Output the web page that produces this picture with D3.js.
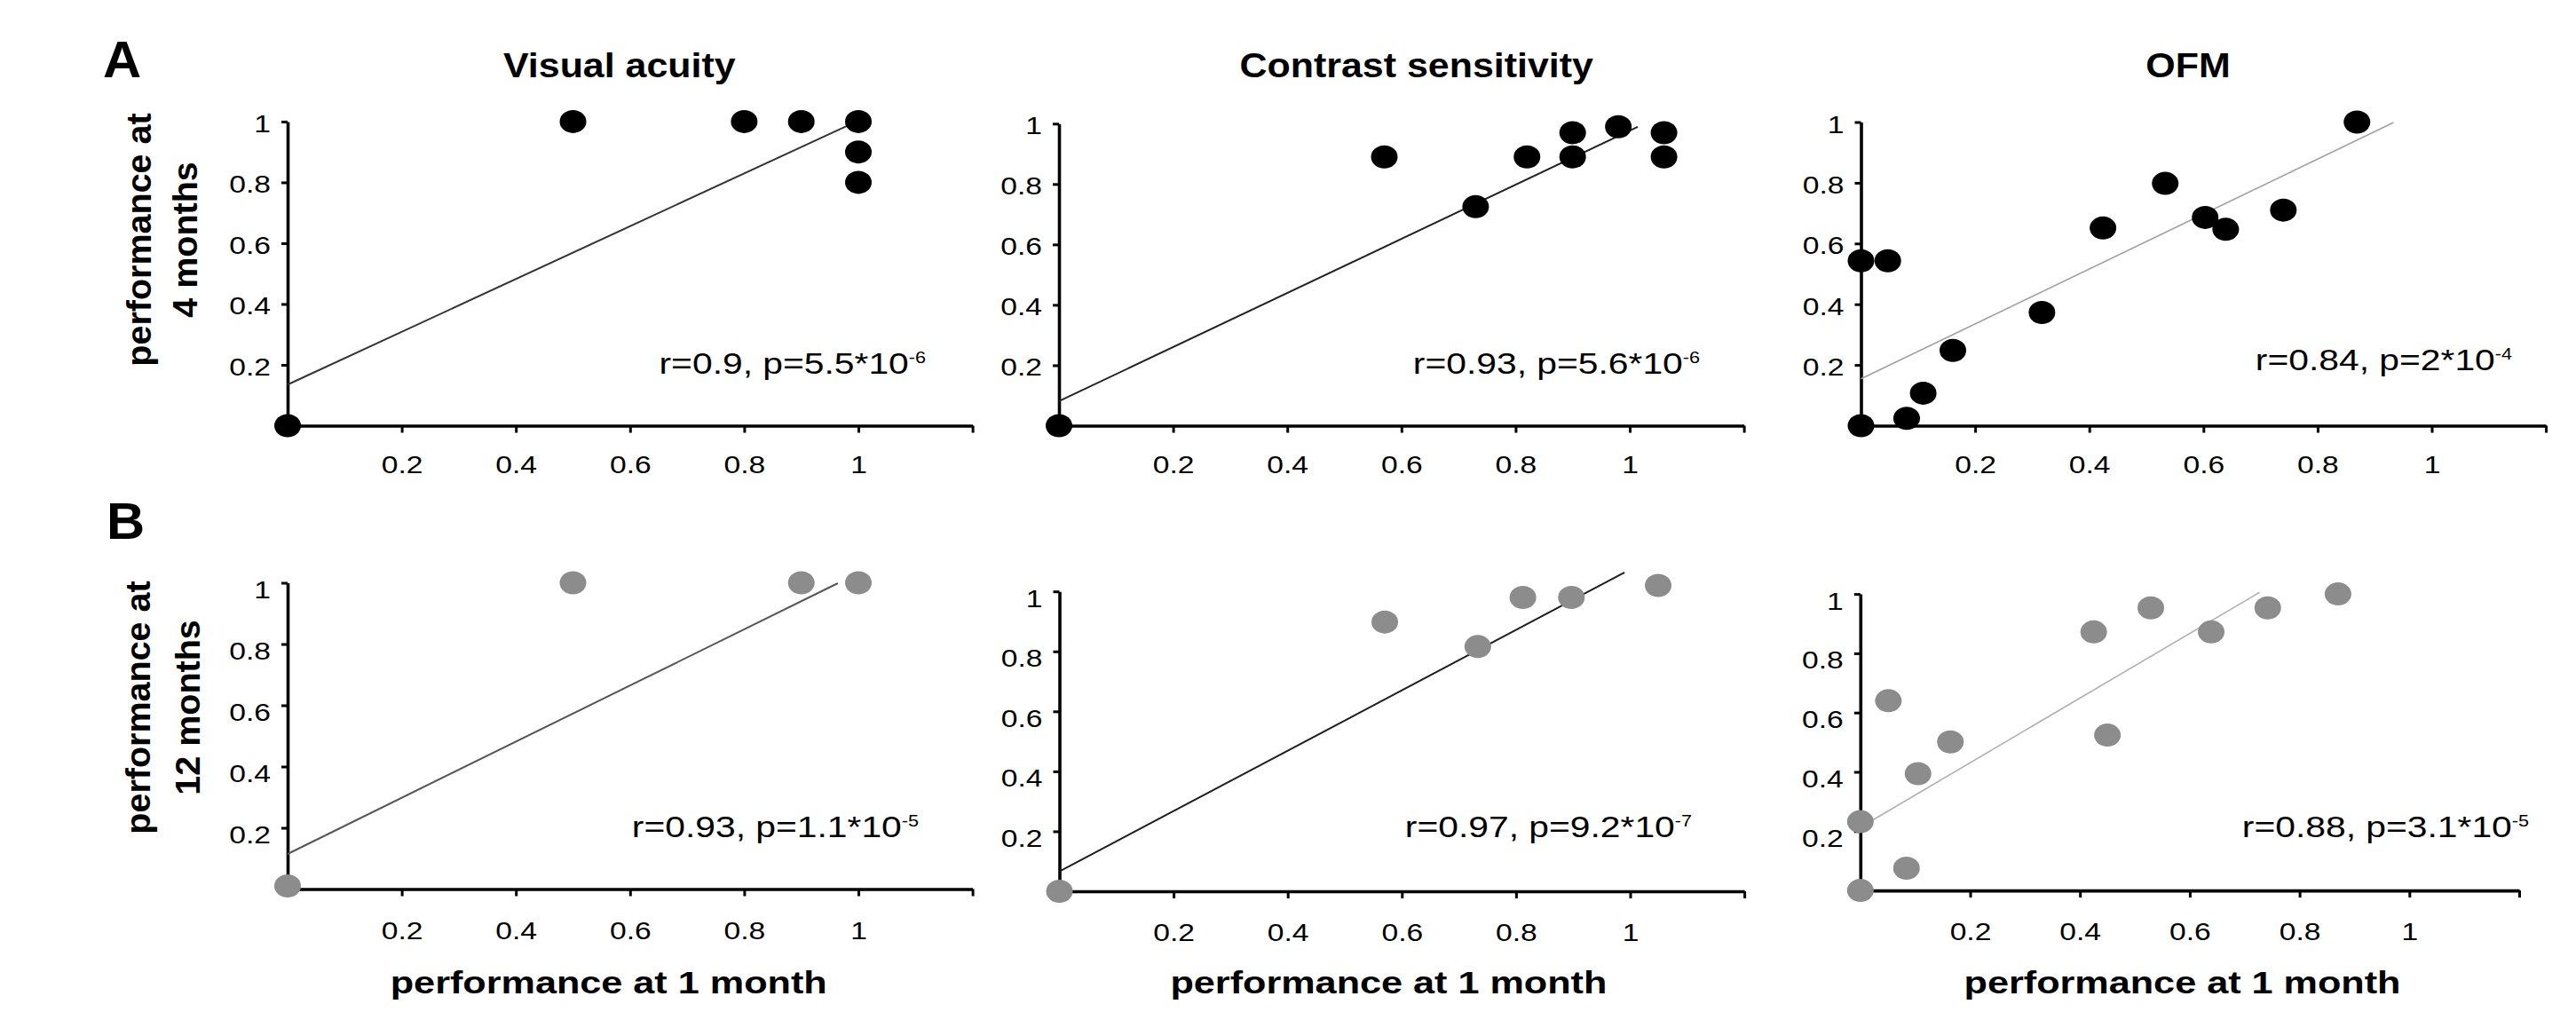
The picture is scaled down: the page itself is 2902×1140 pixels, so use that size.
<!DOCTYPE html>
<html>
<head>
<meta charset="utf-8">
<script src="https://cdn.jsdelivr.net/npm/d3@7"></script>
<style>
  html, body { margin: 0; padding: 0; background: #fff; }
  svg { display: block; }
  text { font-family: "Liberation Sans", Arial, Helvetica, sans-serif; fill: #000; }
</style>
</head>
<body>
<script>
// ---- data: performance at 1 month (x) vs later age (y) ----
const testNames = ["Visual acuity", "Contrast sensitivity", "OFM"];
const rowLetters = ["A", "B"];
const rowYLabels = [["performance at", "4 months"], ["performance at", "12 months"]];
const xAxisLabel = "performance at 1 month";

const xTickValues = [0.2, 0.4, 0.6, 0.8, 1, 1.2];
const xTickLabels = ["0.2", "0.4", "0.6", "0.8", "1", ""];
const yTickValues = [0.2, 0.4, 0.6, 0.8, 1];
const yTickLabels = ["0.2", "0.4", "0.6", "0.8", "1"];

// 4 months
const acuity4X = [0, 0.5, 0.8, 0.9, 1, 1, 1];
const acuity4Y = [0, 1, 1, 1, 1, 0.9, 0.8];
const contrast4X = [0, 0.57, 0.73, 0.82, 0.9, 0.9, 0.98, 1.06, 1.06];
const contrast4Y = [0, 0.89, 0.725, 0.89, 0.89, 0.97, 0.99, 0.97, 0.89];
const ofm4X = [0, 0, 0.047, 0.08, 0.109, 0.161, 0.317, 0.424, 0.533, 0.603, 0.639, 0.74, 0.869];
const ofm4Y = [0, 0.543, 0.543, 0.024, 0.107, 0.248, 0.373, 0.651, 0.798, 0.686, 0.647, 0.71, 1.0];

// 12 months
const acuity12X = [0, 0.5, 0.9, 1];
const acuity12Y = [0.01, 1, 1, 1];
const contrast12X = [0, 0.57, 0.733, 0.812, 0.897, 1.049];
const contrast12Y = [0, 0.898, 0.816, 0.98, 0.98, 1.02];
const ofm12X = [0, 0, 0.084, 0.051, 0.105, 0.164, 0.425, 0.45, 0.529, 0.639, 0.742, 0.87];
const ofm12Y = [0, 0.232, 0.075, 0.64, 0.394, 0.501, 0.872, 0.524, 0.953, 0.872, 0.953, 1.0];

// linear fits: intercept, slope, x extent of the drawn segment
const fitIntercept = [0.135, 0.081, 0.154, 0.1145, 0.066, 0.213];
const fitSlope     = [0.868, 0.896, 0.905, 0.917, 1.007, 1.09];
const fitXEnd      = [0.98, 1.014, 0.933, 0.964, 0.99, 0.727];

// correlation statistics
const statR    = ["0.9", "0.93", "0.84", "0.93", "0.97", "0.88"];
const statPMan = ["5.5", "5.6", "2", "1.1", "9.2", "3.1"];
const statPExp = ["-6", "-6", "-4", "-5", "-7", "-5"];

const seriesX = [acuity4X, contrast4X, ofm4X, acuity12X, contrast12X, ofm12X];
const seriesY = [acuity4Y, contrast4Y, ofm4Y, acuity12Y, contrast12Y, ofm12Y];

// ---- layout (pixels) ----
const W = 2902, H = 1140;
const SX = 1.2;               // horizontal stretch of upright text
const FONT_TICK = 28, FONT_TITLE = 38, FONT_YLAB = 39.5, FONT_XLAB = 36, FONT_STAT = 34, FONT_LETTER = 58;

const frames = [
  { x0: 324,    unit: 643,   y0: 479.5,  y1: 136.9, titleX: 697.8,  statX: 1043, statY: 421 },
  { x0: 1193,   unit: 643,   y0: 479.5,  y1: 139.3, titleX: 1595.7, statX: 1915, statY: 421 },
  { x0: 2096.5, unit: 643,   y0: 479.5,  y1: 137.5, titleX: 2465,   statX: 2830, statY: 417 },
  { x0: 324,    unit: 643,   y0: 1001.5, y1: 656.5, xlabX: 685.7,  statX: 1035, statY: 943 },
  { x0: 1193.5, unit: 643,   y0: 1004,   y1: 666.2, xlabX: 1564.4, statX: 1906, statY: 943 },
  { x0: 2095.8, unit: 618.5, y0: 1003.1, y1: 669.1, xlabX: 2458.5, statX: 2849, statY: 943 }
];
const rowFrames = [
  { letterX: 116, letterY: 87,  yLab1X: 170, yLab2X: 222, yLabY: 270, yTickDy: 11.5, xTickDy: 53.5 },
  { letterX: 120, letterY: 607, yLab1X: 169, yLab2X: 225, yLabY: 797, yTickDy: 17,   xTickDy: 56 }
];
const dotFill  = ["#000000", "#8c8c8c"];
const fitColor = ["#333333", "#222222", "#a0a0a0", "#555555", "#1e1e1e", "#b0b0b0"];
const fitWidth = [2, 2, 1.6, 2, 2, 1.6];

const svg = d3.select("body").append("svg")
  .attr("width", W).attr("height", H)
  .attr("viewBox", `0 0 ${W} ${H}`);
svg.append("rect").attr("width", W).attr("height", H).attr("fill", "#fff");

function upright(g, x, y, str, size, weight, anchor, sx) {
  return g.append("text")
    .attr("transform", `translate(${x},${y}) scale(${sx},1)`)
    .attr("font-size", size)
    .attr("font-weight", weight)
    .attr("text-anchor", anchor)
    .text(str);
}

// row letters and y-axis titles
rowFrames.forEach((rf, r) => {
  upright(svg, rf.letterX, rf.letterY, rowLetters[r], FONT_LETTER, "bold", "start", 1.03);
  [rf.yLab1X, rf.yLab2X].forEach((lx, i) => {
    svg.append("text")
      .attr("transform", `translate(${lx},${rf.yLabY}) rotate(-90)`)
      .attr("font-size", FONT_YLAB)
      .attr("font-weight", "bold")
      .attr("text-anchor", "middle")
      .text(rowYLabels[r][i]);
  });
});

frames.forEach((f, i) => {
  const row = Math.floor(i / 3);
  const rf = rowFrames[row];
  const g = svg.append("g");
  const x = d3.scaleLinear().domain([0, 1.2]).range([f.x0, f.x0 + 1.2 * f.unit]);
  const y = d3.scaleLinear().domain([0, 1]).range([f.y0, f.y1]);

  // x axis
  const gx = g.append("g").attr("transform", `translate(0,${f.y0})`)
    .call(d3.axisBottom(x).tickValues(xTickValues)
      .tickFormat((d, k) => xTickLabels[k]).tickSize(8).tickSizeOuter(0).tickPadding(0));
  gx.select(".domain").attr("stroke", "#000").attr("stroke-width", 3.6);
  gx.selectAll(".tick line").attr("stroke", "#000").attr("stroke-width", 3);
  gx.attr("font-family", null).attr("font-size", FONT_TICK);
  gx.selectAll(".tick text")
    .attr("y", null).attr("dy", null).attr("fill", "#000")
    .attr("text-anchor", "middle")
    .attr("transform", `translate(0,${rf.xTickDy}) scale(${SX},1)`);

  // y axis
  const gy = g.append("g").attr("transform", `translate(${f.x0},0)`)
    .call(d3.axisLeft(y).tickValues(yTickValues)
      .tickFormat((d, k) => yTickLabels[k]).tickSize(7).tickSizeOuter(0).tickPadding(0));
  gy.select(".domain").attr("stroke", "#000").attr("stroke-width", 3.6);
  gy.selectAll(".tick line").attr("stroke", "#000").attr("stroke-width", 3);
  gy.attr("font-family", null).attr("font-size", FONT_TICK);
  gy.selectAll(".tick text")
    .attr("x", null).attr("dy", null).attr("fill", "#000")
    .attr("text-anchor", "end")
    .attr("transform", `translate(-19,${rf.yTickDy}) scale(${SX},1)`);

  // regression line
  const fx = [0, fitXEnd[i]];
  g.append("path")
    .datum(fx)
    .attr("fill", "none")
    .attr("stroke", fitColor[i])
    .attr("stroke-width", fitWidth[i])
    .attr("d", d3.line().x(d => x(d)).y(d => y(fitIntercept[i] + fitSlope[i] * d)));

  // subjects
  g.selectAll("ellipse.pt")
    .data(seriesX[i].map((v, k) => [v, seriesY[i][k]]))
    .join("ellipse")
    .attr("class", "pt")
    .attr("cx", d => x(d[0]))
    .attr("cy", d => y(d[1]))
    .attr("rx", 15)
    .attr("ry", 13)
    .attr("fill", dotFill[row]);

  // statistics
  const st = g.append("text")
    .attr("transform", `translate(${f.statX},${f.statY}) scale(${SX},1)`)
    .attr("font-size", FONT_STAT)
    .attr("text-anchor", "end");
  st.append("tspan").text(`r=${statR[i]}, p=${statPMan[i]}*10`);
  st.append("tspan").attr("font-size", 18).attr("dy", -12).text(statPExp[i]);

  if (row === 0) upright(g, f.titleX, 87, testNames[i], FONT_TITLE, "bold", "middle", 1.13);
  else upright(g, f.xlabX, 1119, xAxisLabel, FONT_XLAB, "bold", "middle", SX);
});
</script>
</body>
</html>
